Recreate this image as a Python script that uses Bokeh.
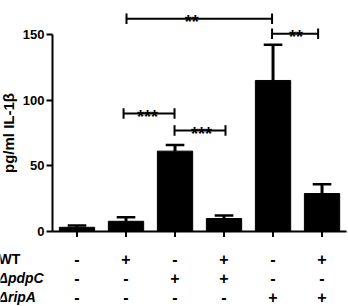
import numpy as np
from bokeh.plotting import figure
from bokeh.models import Range1d, FixedTicker, ColumnDataSource
from bokeh.core.properties import value
from bokeh.embed import file_html
from bokeh.resources import INLINE

# ---- data ----
groups = [1, 2, 3, 4, 5, 6]
means = [3.2, 7.8, 61.2, 9.9, 115.0, 28.9]
upper = [4.5, 10.9, 65.9, 12.2, 142.2, 36.0]
wt_signs = ["-", "+", "-", "+", "-", "+"]
pdpc_signs = ["-", "-", "+", "+", "-", "-"]
ripa_signs = ["-", "-", "-", "-", "+", "+"]
row_names = ["WT", "\u0394pdpC", "\u0394ripA"]
row_styles = ["bold", "bold italic", "bold italic"]
y_ticks = [0, 50, 100, 150]
y_title = "pg/ml IL-1\u03b2"
br_x0 = [2.01, 4.98, 1.95, 2.99]
br_x1 = [4.98, 5.92, 2.99, 4.03]
br_y = [162.0, 150.6, 89.9, 76.9]
br_text = ["**", "**", "***", "***"]
br_text_x = [3.34, 5.47, 2.44, 3.54]

FONT = "Liberation Sans"

# ---- layout constants ----
row_y = [-21.3, -35.4, -50.0]
bar_w = 0.72
cap_w = 0.38
tick_h = 4.2
x_left = 0.5 - 52 / 49.0

p = figure(width=348, height=306, output_backend="svg", toolbar_location=None,
           x_range=Range1d(x_left, 6.54), y_range=Range1d(-57.1, 175.9),
           x_axis_location=None, min_border_left=0, min_border_right=0,
           min_border_top=0, min_border_bottom=0)
p.outline_line_color = None
p.grid.visible = False
p.background_fill_color = "white"
p.border_fill_color = "white"

yax = p.yaxis[0]
yax.fixed_location = 0.5
yax.bounds = (0, 150)
yax.ticker = FixedTicker(ticks=y_ticks)
yax.minor_tick_line_color = None
yax.axis_line_width = 2
yax.axis_line_color = "black"
yax.major_tick_line_width = 2
yax.major_tick_line_color = "black"
yax.major_tick_out = 6
yax.major_tick_in = 0
yax.major_label_standoff = 2
yax.major_label_text_font = FONT
yax.major_label_text_font_style = "bold"
yax.major_label_text_font_size = "13px"
yax.major_label_text_color = "black"
yax.axis_label = y_title
yax.axis_label_text_font = FONT
yax.axis_label_text_font_style = "bold"
yax.axis_label_text_font_size = "15px"
yax.axis_label_text_color = "black"
yax.axis_label_standoff = 3

# bars
src = ColumnDataSource(dict(x=groups, m=means, u=upper))
p.vbar(x="x", top="m", bottom=0, width=bar_w, source=src,
       fill_color="black", line_color="black")
# error bars (upper only)
p.segment(x0="x", y0="m", x1="x", y1="u", source=src, line_color="black", line_width=3)
xs = np.array(groups, dtype=float)
p.segment(x0=xs - cap_w / 2, y0=upper, x1=xs + cap_w / 2, y1=upper,
          line_color="black", line_width=2.5)

# x axis line and ticks
p.segment(x0=[0.5], y0=[0], x1=[6.5], y1=[0], line_color="black", line_width=2)
p.segment(x0=groups, y0=[0] * 6, x1=groups, y1=[-tick_h] * 6,
          line_color="black", line_width=2)

# significance brackets
p.segment(x0=br_x0, y0=br_y, x1=br_x1, y1=br_y, line_color="black", line_width=2)
by = np.array(br_y)
p.segment(x0=br_x0, y0=by - 4, x1=br_x0, y1=by + 4, line_color="black", line_width=2)
p.segment(x0=br_x1, y0=by - 4, x1=br_x1, y1=by + 4, line_color="black", line_width=2)
p.text(x=br_text_x, y=list(by - 2.6), text=br_text, text_align="center",
       text_baseline="alphabetic", text_font=value(FONT), text_font_style="bold",
       text_font_size="18px", text_color="black")

# sign rows
for signs, yy in zip([wt_signs, pdpc_signs, ripa_signs], row_y):
    p.text(x=groups, y=[yy] * 6, text=signs, text_align="center", text_baseline="middle",
           text_font=value(FONT), text_font_style="bold", text_font_size="16px",
           text_color="black")

# row names
for name, style, yy in zip(row_names, row_styles, row_y):
    p.text(x=[x_left - 0.04], y=[yy], text=[name], text_align="left", text_baseline="middle",
           text_font=value(FONT), text_font_style=style, text_font_size="14px",
           text_color="black")

open("out.html", "w").write(file_html(p, INLINE))
